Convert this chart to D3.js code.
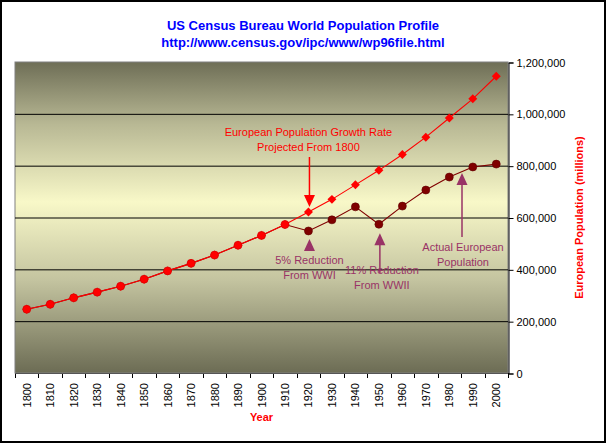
<!DOCTYPE html>
<html>
<head>
<meta charset="utf-8">
<script src="https://cdn.jsdelivr.net/npm/d3@7"></script>
<style>
  body { margin: 0; background: #fff; }
  svg { display: block; font-family: Arial, "Liberation Sans", sans-serif; }
</style>
</head>
<body>
<svg id="chart" width="606" height="443"></svg>
<script>
  // Years on the category axis.
  var years = [1800, 1810, 1820, 1830, 1840, 1850, 1860, 1870, 1880, 1890, 1900,
               1910, 1920, 1930, 1940, 1950, 1960, 1970, 1980, 1990, 2000];

  // Growth rate projected from 1800 (red diamonds).
  var projected = [246000, 265000, 290000, 312000, 335000, 362000, 394000, 423000, 455000, 493000, 531000,
                   573000, 621000, 670000, 726000, 782000, 843000, 910000, 984000, 1058000, 1145000];

  // Actual European population (circles).
  var actual = [246000, 265000, 290000, 312000, 335000, 362000, 394000, 423000, 455000, 493000, 531000,
                573000, 548000, 591000, 641000, 574000, 644000, 706000, 756000, 795000, 806000];

  var yTicks = [0, 200000, 400000, 600000, 800000, 1000000, 1200000];

  // Annotations: text lines and colour.
  var notes = [
    { lines: ['European Population Growth Rate', 'Projected From 1800'], color: '#ff0000' },
    { lines: ['5% Reduction', 'From WWI'], color: '#993366' },
    { lines: ['11% Reduction', 'From WWII'], color: '#993366' },
    { lines: ['Actual European', 'Population'], color: '#993366' }
  ];

;(function() {
  'use strict';

  var svg = d3.select('#chart');
  var plotL = 15, plotR = 508, plotT = 62, plotB = 373;

  var x = d3.scaleBand().domain(years).range([plotL, plotR]);
  var cx = function(d) { return x(d) + x.bandwidth() / 2; };
  var y = d3.scaleLinear().domain([0, 1200000]).range([plotB, plotT]);

  // Outer border
  svg.append('rect')
      .attr('x', 1).attr('y', 1).attr('width', 604).attr('height', 441)
      .attr('fill', '#fff').attr('stroke', '#000').attr('stroke-width', 2);

  // Plot background gradient
  var grad = svg.append('defs').append('linearGradient')
      .attr('id', 'bg').attr('x1', 0).attr('y1', 0).attr('x2', 0).attr('y2', 1);
  [[0, '#6e6e56'], [0.2, '#b8b894'], [0.45, '#f8f8c8'], [0.7, '#c4c4a0'], [1, '#6c6c54']].forEach(function(s) {
    grad.append('stop').attr('offset', s[0]).attr('stop-color', s[1]);
  });
  svg.append('rect')
      .attr('x', plotL).attr('y', plotT).attr('width', plotR - plotL).attr('height', plotB - plotT)
      .attr('fill', 'url(#bg)').attr('stroke', '#808080');

  // Gridlines
  svg.append('g').selectAll('line')
      .data(yTicks.filter(function(d) { return d > 0 && d < 1200000; }))
      .enter().append('line')
      .attr('x1', plotL).attr('x2', plotR)
      .attr('y1', function(d) { return y(d) + 0.5; }).attr('y2', function(d) { return y(d) + 0.5; })
      .attr('stroke', '#000');

  // Right value axis
  var yAxis = d3.axisRight(y).tickValues(yTicks).tickSizeOuter(0).tickSize(5).tickPadding(3)
      .tickFormat(d3.format(','));
  svg.append('g')
      .attr('transform', 'translate(' + (plotR + 0.5) + ',0.5)')
      .call(yAxis)
      .call(function(g) {
        g.selectAll('text').attr('font-size', 11).attr('font-family', 'Arial, "Liberation Sans", sans-serif').attr('fill', '#000');
        g.selectAll('line, path').attr('stroke', '#000');
      });

  // Bottom category axis: ticks at band edges, rotated labels
  var xg = svg.append('g');
  var edges = years.map(function(d) { return x(d); }).concat([plotR]);
  xg.selectAll('line').data(edges).enter().append('line')
      .attr('x1', function(d) { return Math.round(d) + 0.5; })
      .attr('x2', function(d) { return Math.round(d) + 0.5; })
      .attr('y1', plotB).attr('y2', plotB + 5)
      .attr('stroke', '#000');
  xg.append('line').attr('x1', plotL).attr('x2', plotR)
      .attr('y1', plotB + 0.5).attr('y2', plotB + 0.5).attr('stroke', '#555');
  xg.selectAll('text').data(years).enter().append('text')
      .attr('transform', function(d) { return 'translate(' + (cx(d) + 4) + ',' + (plotB + 10) + ') rotate(-90)'; })
      .attr('text-anchor', 'end')
      .attr('font-size', 11)
      .text(function(d) { return d; });

  // Lines
  var line = function(vals) {
    return d3.line().x(function(d, i) { return cx(years[i]); }).y(function(d) { return y(d); })(vals);
  };
  svg.append('path').attr('d', line(actual)).attr('fill', 'none').attr('stroke', '#800000').attr('stroke-width', 1.1);
  svg.append('path').attr('d', line(projected)).attr('fill', 'none').attr('stroke', '#ff0000').attr('stroke-width', 1.1);

  // Diamond markers: a square turned 45 degrees
  svg.append('g').selectAll('path').data(projected).enter().append('path')
      .attr('d', d3.symbol().type(d3.symbolSquare).size(40))
      .attr('transform', function(d, i) { return 'translate(' + cx(years[i]) + ',' + y(d) + ') rotate(45)'; })
      .attr('fill', '#ff0000');

  svg.append('g').selectAll('circle').data(actual).enter().append('circle')
      .attr('cx', function(d, i) { return cx(years[i]); })
      .attr('cy', function(d) { return y(d); })
      .attr('r', 4)
      .attr('fill', function(d, i) { return years[i] <= 1910 ? '#ff0000' : '#800000'; })
      .attr('stroke', function(d, i) { return years[i] <= 1910 ? '#cc0000' : '#600000'; })
      .attr('stroke-width', 0.6);

  // Annotation arrows
  function arrow(xp, y1, tip, color, up) {
    var dir = up ? 1 : -1;
    svg.append('line')
        .attr('x1', xp).attr('x2', xp).attr('y1', y1).attr('y2', tip + dir * 6)
        .attr('stroke', color).attr('stroke-width', 1.5);
    svg.append('path')
        .attr('d', 'M' + xp + ',' + tip + 'L' + (xp - 5.5) + ',' + (tip + dir * 12) + 'L' + (xp + 5.5) + ',' + (tip + dir * 12) + 'Z')
        .attr('fill', color);
  }

  var noteLayout = [
    { tx: cx(1920), ty: 136, lx: cx(1920) + 1, from: 157, tip: y(projected[12]) - 5, up: false },
    { tx: cx(1920) + 1, ty: 264, lx: cx(1920) + 1, from: 251, tip: y(actual[12]) + 8, up: true },
    { tx: cx(1950) + 3, ty: 274, lx: cx(1950) + 1, from: 273, tip: y(actual[15]) + 9, up: true },
    { tx: 463, ty: 251, lx: 462, from: 237, tip: 173, up: true }
  ];

  notes.forEach(function(n, i) {
    var l = noteLayout[i];
    arrow(l.lx, l.from, l.tip, n.color, l.up);
    var t = svg.append('text')
        .attr('x', l.tx).attr('y', l.ty)
        .attr('text-anchor', 'middle')
        .attr('font-size', 11)
        .attr('fill', n.color);
    n.lines.forEach(function(s, j) {
      t.append('tspan').attr('x', l.tx).attr('dy', j ? 15 : 0).text(s);
    });
  });

  // Titles
  svg.append('text').attr('x', 303).attr('y', 30).attr('text-anchor', 'middle')
      .attr('font-size', 13).attr('font-weight', 'bold').attr('fill', '#0000ff')
      .text('US Census Bureau World Population Profile');
  svg.append('text').attr('x', 303).attr('y', 47).attr('text-anchor', 'middle')
      .attr('font-size', 13).attr('font-weight', 'bold').attr('fill', '#0000ff')
      .text('http://www.census.gov/ipc/www/wp96file.html');

  svg.append('text').attr('x', (plotL + plotR) / 2).attr('y', 421).attr('text-anchor', 'middle')
      .attr('font-size', 11).attr('font-weight', 'bold').attr('fill', '#ff0000')
      .text('Year');

  svg.append('text')
      .attr('transform', 'translate(583,' + ((plotT + plotB) / 2) + ') rotate(-90)')
      .attr('text-anchor', 'middle')
      .attr('font-size', 11).attr('font-weight', 'bold').attr('fill', '#ff0000')
      .text('European Population (millions)');
}());
</script>
</body>
</html>
